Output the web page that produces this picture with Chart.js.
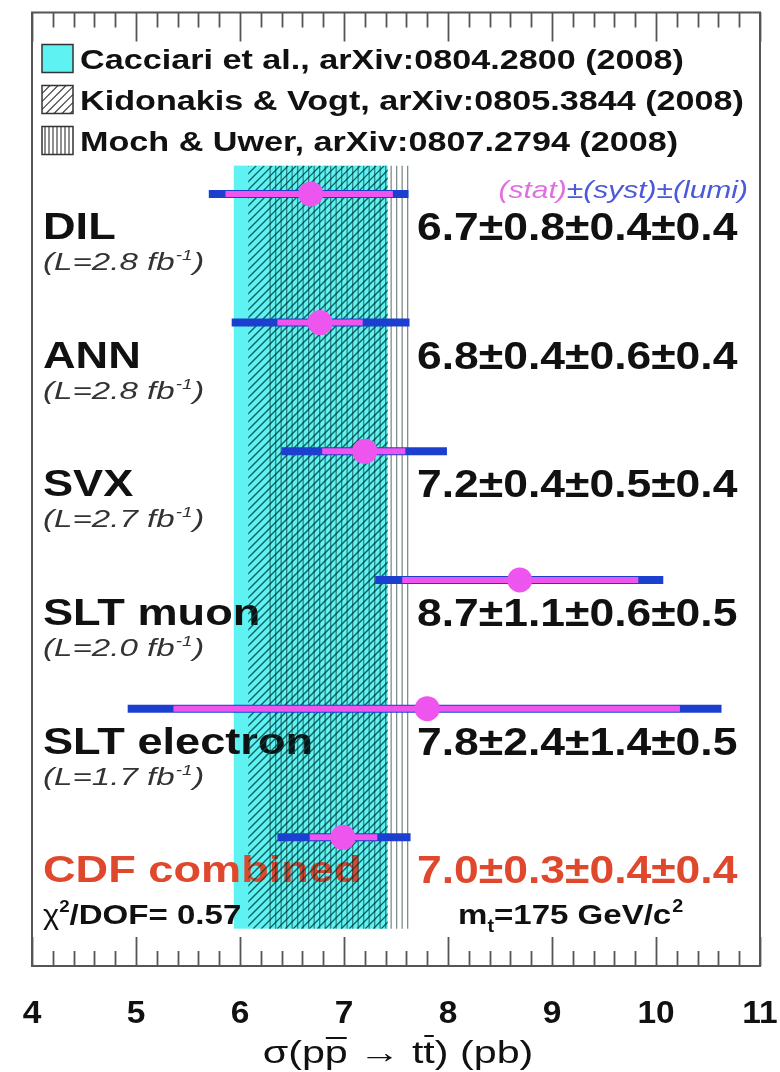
<!DOCTYPE html>
<html>
<head>
<meta charset="utf-8">
<script src="https://cdn.jsdelivr.net/npm/chart.js@4.4.1/dist/chart.umd.min.js"></script>
<style>
html, body { margin: 0; padding: 0; background: #fff; }
#wrap { width: 780px; height: 1072px; }
</style>
</head>
<body>
<div id="wrap"><canvas id="xsecChart" width="780" height="1072"></canvas></div>
<script>
// measurements, top to bottom
const rowNames = ['DIL', 'ANN', 'SVX', 'SLT muon', 'SLT electron', 'CDF combined'];
const rowLumi = ['2.8', '2.8', '2.7', '2.0', '1.7', null];
const rowY = [6, 5, 4, 3, 2, 1];
const central = [6.68, 6.77, 7.20, 8.69, 7.80, 6.99];
const statLo = [5.86, 6.36, 6.79, 7.56, 5.36, 6.67];
const statHi = [7.47, 7.18, 7.59, 9.83, 10.23, 7.32];
const totLo = [5.70, 5.92, 6.40, 7.30, 4.92, 6.36];
const totHi = [7.62, 7.63, 7.99, 10.07, 10.63, 7.64];
const valueText = ['6.7±0.8±0.4±0.4', '6.8±0.4±0.6±0.4', '7.2±0.4±0.5±0.4',
                   '8.7±1.1±0.6±0.5', '7.8±2.4±1.4±0.5', '7.0±0.3±0.4±0.4'];

// theory bands
const bandNames = ['Cacciari et al., arXiv:0804.2800 (2008)',
                   'Kidonakis & Vogt, arXiv:0805.3844 (2008)',
                   'Moch & Uwer, arXiv:0807.2794 (2008)'];
const bandLo = [5.94, 6.08, 6.29];
const bandHi = [7.42, 7.42, 7.62];
const bandYLo = 0.29;
const bandYHi = 6.22;

// axis
const xTicks = [4, 5, 6, 7, 8, 9, 10, 11];
const xMin = 4, xMax = 11;

const CYAN = '#5ef2f2';
const PINK = '#ee55ee';
const BLUE = '#1c3fcf';
const RED = '#e0482e';
const FONT = '"Liberation Sans", Arial, sans-serif';

// text drawn a bit wider than normal, like the original figure
function txt(ctx, s, x, y, font, color, align, sx) {
    ctx.save();
    ctx.font = font;
    ctx.fillStyle = color;
    ctx.textBaseline = 'alphabetic';
    ctx.textAlign = 'left';
    const w = ctx.measureText(s).width * sx;
    let x0 = x;
    if (align === 'right') x0 = x - w;
    else if (align === 'center') x0 = x - w / 2;
    ctx.translate(x0, y);
    ctx.scale(sx, 1);
    ctx.fillText(s, 0, 0);
    ctx.restore();
    return x0 + w;
}
function txtWidth(ctx, s, font, sx) {
    ctx.save();
    ctx.font = font;
    const w = ctx.measureText(s).width * sx;
    ctx.restore();
    return w;
}

function diagHatch(ctx, x0, y0, x1, y1, step, color, lw) {
    ctx.save();
    ctx.beginPath();
    ctx.rect(x0, y0, x1 - x0, y1 - y0);
    ctx.clip();
    ctx.strokeStyle = color;
    ctx.lineWidth = lw;
    const h = y1 - y0;
    ctx.beginPath();
    for (let d = -h; d < (x1 - x0) + step; d += step) {
        ctx.moveTo(x0 + d, y1);
        ctx.lineTo(x0 + d + h, y0);
    }
    ctx.stroke();
    ctx.restore();
}
function vertHatch(ctx, x0, y0, x1, y1, step, color, lw) {
    ctx.save();
    ctx.strokeStyle = color;
    ctx.lineWidth = lw;
    ctx.beginPath();
    for (let x = x0; x <= x1 + 0.5; x += step) {
        ctx.moveTo(x, y0);
        ctx.lineTo(x, y1);
    }
    ctx.stroke();
    ctx.restore();
}

const bandsPlugin = {
    id: 'bands',
    beforeDatasetsDraw(chart) {
        const ctx = chart.ctx;
        const xs = chart.scales.x, ys = chart.scales.y;
        const yTop = ys.getPixelForValue(bandYHi);
        const yBot = ys.getPixelForValue(bandYLo);

        // Cacciari: solid cyan
        ctx.save();
        ctx.fillStyle = CYAN;
        const cx0 = xs.getPixelForValue(bandLo[0]), cx1 = xs.getPixelForValue(bandHi[0]);
        ctx.fillRect(cx0, yTop, cx1 - cx0, yBot - yTop);
        ctx.restore();

        // row labels sit under the hatching
        rowNames.forEach((name, i) => {
            const py = ys.getPixelForValue(rowY[i]);
            const isComb = i === rowNames.length - 1;
            txt(ctx, name, 43, py + 45, 'bold 37px ' + FONT, isComb ? RED : '#111', 'left', 1.22);
            if (rowLumi[i]) {
                const f = 'italic 24px ' + FONT;
                let x = txt(ctx, '(L=' + rowLumi[i] + ' fb', 43, py + 76, f, '#333', 'left', 1.38);
                x = txt(ctx, '-1', x + 1, py + 66, 'italic 15px ' + FONT, '#333', 'left', 1.25);
                txt(ctx, ')', x + 1, py + 76, f, '#333', 'left', 1.38);
            }
        });
        const pc = ys.getPixelForValue(rowY[rowY.length - 1]);
        let x = txt(ctx, 'χ', 43, pc + 87, '28px ' + FONT, '#111', 'left', 1.1);
        x = txt(ctx, '2', x, pc + 75, 'bold 17px ' + FONT, '#111', 'left', 1.1);
        txt(ctx, '/DOF= 0.57', x, pc + 87, 'bold 28px ' + FONT, '#111', 'left', 1.18);

        // Kidonakis & Vogt: diagonal hatch
        diagHatch(ctx, xs.getPixelForValue(bandLo[1]), yTop, xs.getPixelForValue(bandHi[1]), yBot,
                  8, 'rgba(0,70,70,0.85)', 1.4);
        // Moch & Uwer: vertical lines
        vertHatch(ctx, xs.getPixelForValue(bandLo[2]), yTop, xs.getPixelForValue(bandHi[2]), yBot,
                  5.5, 'rgba(0,30,30,0.5)', 1.3);
    },
    afterDatasetsDraw(chart) {
        const ctx = chart.ctx;
        const a = chart.chartArea;
        const xs = chart.scales.x, ys = chart.scales.y;

        // frame and inward ticks
        ctx.save();
        ctx.strokeStyle = '#555';
        ctx.lineWidth = 2;
        ctx.strokeRect(a.left, a.top, a.right - a.left, a.bottom - a.top);
        ctx.lineWidth = 1.8;
        ctx.beginPath();
        for (let k = 0; k <= (xMax - xMin) * 5; k++) {
            const v = xMin + k * 0.2;
            const px = Math.round(xs.getPixelForValue(v)) + 0.5;
            const len = (k % 5 === 0) ? 29 : 15;
            ctx.moveTo(px, a.top);
            ctx.lineTo(px, a.top + len);
            ctx.moveTo(px, a.bottom);
            ctx.lineTo(px, a.bottom - len);
        }
        ctx.stroke();
        ctx.restore();

        // tick labels
        xTicks.forEach(t => {
            txt(ctx, String(t), xs.getPixelForValue(t), a.bottom + 57, 'bold 31px ' + FONT, '#111', 'center', 1.08);
        });

        // axis title: σ(p p̄ → t t̄) (pb)
        const tf = '31px ' + FONT, sx = 1.33;
        const pieces = ['σ(p', 'p', ' → t', 't', ') (pb)'];
        const total = pieces.reduce((s, p) => s + txtWidth(ctx, p, tf, sx), 0);
        let tx = 398 - total / 2;
        const tb = a.bottom + 97;
        pieces.forEach((p, i) => {
            const x0 = tx;
            tx = txt(ctx, p, tx, tb, tf, '#111', 'left', sx);
            if (i === 1 || i === 3) {
                ctx.save();
                ctx.strokeStyle = '#111';
                ctx.lineWidth = 2;
                const oy = tb - (i === 1 ? 25 : 27);
                ctx.beginPath();
                ctx.moveTo(x0 + 1, oy);
                ctx.lineTo(tx - 1, oy);
                ctx.stroke();
                ctx.restore();
            }
        });

        // legend
        bandNames.forEach((name, i) => {
            const base = a.top + 56 + i * 41;
            const bx = 42, by = base - 24, bw = 31, bh = 28;
            ctx.save();
            if (i === 0) {
                ctx.fillStyle = CYAN;
                ctx.fillRect(bx, by, bw, bh);
            } else if (i === 1) {
                diagHatch(ctx, bx, by, bx + bw, by + bh, 8, '#444', 1.2);
            } else {
                vertHatch(ctx, bx + 3, by, bx + bw - 2, by + bh, 4, '#444', 1.2);
            }
            ctx.strokeStyle = '#333';
            ctx.lineWidth = 1.5;
            ctx.strokeRect(bx, by, bw, bh);
            ctx.restore();
            txt(ctx, name, 80, base, 'bold 28px ' + FONT, '#111', 'left', 1.22);
        });

        // error legend and values
        const p0 = ys.getPixelForValue(rowY[0]);
        const hf = 'italic 24px ' + FONT, hsx = 1.25;
        const hp = ['(stat)', '±(syst)±(lumi)'];
        let hx = 748 - hp.reduce((s, p) => s + txtWidth(ctx, p, hf, hsx), 0);
        hx = txt(ctx, hp[0], hx, p0 + 4, hf, '#e070e0', 'left', hsx);
        txt(ctx, hp[1], hx, p0 + 4, hf, '#4a5ad8', 'left', hsx);

        valueText.forEach((v, i) => {
            const py = ys.getPixelForValue(rowY[i]);
            const isComb = i === valueText.length - 1;
            txt(ctx, v, 417, py + 46, 'bold 38px ' + FONT, isComb ? RED : '#111', 'left', 1.17);
        });

        // m_t label
        const pc = ys.getPixelForValue(rowY[rowY.length - 1]);
        let mx = txt(ctx, 'm', 458, pc + 87, 'bold 28px ' + FONT, '#111', 'left', 1.18);
        mx = txt(ctx, 't', mx, pc + 95, 'bold 18px ' + FONT, '#111', 'left', 1.1);
        mx = txt(ctx, '=175 GeV/c', mx, pc + 87, 'bold 28px ' + FONT, '#111', 'left', 1.18);
        txt(ctx, '2', mx + 1, pc + 75, 'bold 18px ' + FONT, '#111', 'left', 1.1);
    }
};

function buildDatasets() {
    const ds = [];
    rowNames.forEach((name, i) => {
        ds.push({
            type: 'line',
            label: name + ' total',
            data: [{ x: totLo[i], y: rowY[i] }, { x: totHi[i], y: rowY[i] }],
            borderColor: BLUE,
            borderWidth: 8,
            borderCapStyle: 'butt',
            pointRadius: 0,
            fill: false,
            order: 3
        });
        ds.push({
            type: 'line',
            label: name + ' stat',
            data: [{ x: statLo[i], y: rowY[i] }, { x: statHi[i], y: rowY[i] }],
            borderColor: PINK,
            borderWidth: 6,
            borderCapStyle: 'butt',
            pointRadius: 0,
            fill: false,
            order: 2
        });
    });
    ds.push({
        type: 'scatter',
        label: 'central',
        data: central.map((c, i) => ({ x: c, y: rowY[i] })),
        backgroundColor: PINK,
        borderWidth: 0,
        pointRadius: 12.5,
        order: 1
    });
    return ds;
}

new Chart(document.getElementById('xsecChart').getContext('2d'), {
    type: 'scatter',
    data: { datasets: buildDatasets() },
    options: {
        responsive: false,
        animation: false,
        layout: { padding: { left: 32, right: 20, top: 9, bottom: 106 } },
        plugins: { legend: { display: false }, tooltip: { enabled: false } },
        scales: {
            x: { type: 'linear', min: xMin, max: xMax, display: false },
            y: { type: 'linear', min: 0, max: 7.41, display: false }
        }
    },
    plugins: [bandsPlugin]
});
</script>
</body>
</html>
